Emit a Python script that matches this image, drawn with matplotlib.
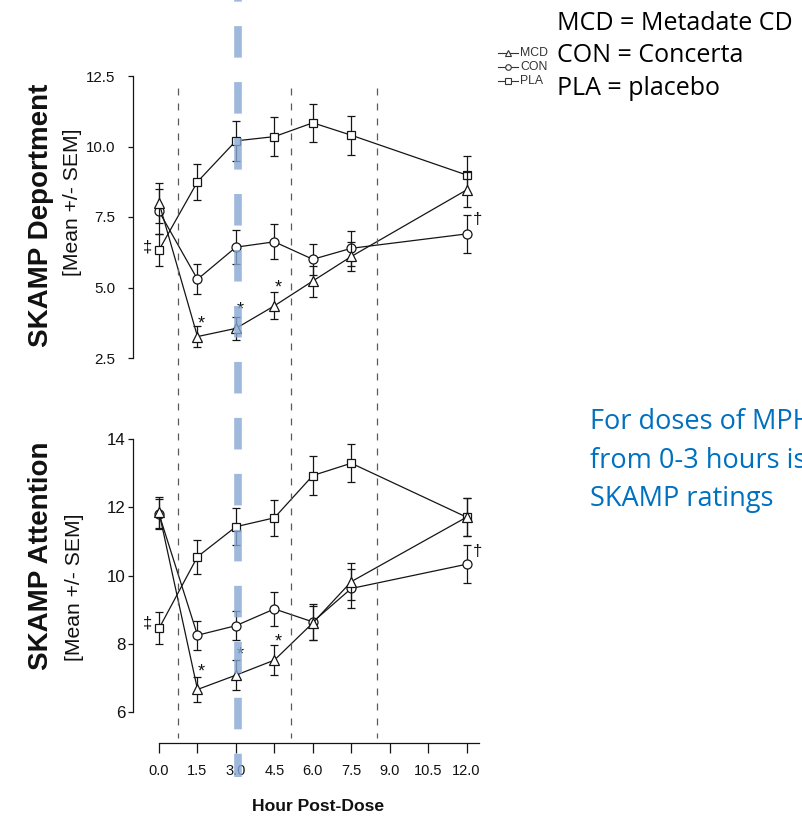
import matplotlib
matplotlib.use("Agg")
import matplotlib.pyplot as plt
from matplotlib import font_manager, transforms
from matplotlib.lines import Line2D


def pick_font(names):
    for name in names:
        try:
            font_manager.findfont(font_manager.FontProperties(family=name),
                                  fallback_to_default=False)
            return name
        except ValueError:
            continue
    return "DejaVu Sans"


NARROW = pick_font(["Liberation Sans Narrow", "Arial Narrow", "Liberation Sans"])
SANS = pick_font(["Liberation Sans", "Arial"])
SLIDE = pick_font(["Open Sans", "Noto Sans", "Lato"])
NS = 1.0 if "Narrow" in NARROW else 0.84   # size factor when no condensed face

plt.rcParams["font.family"] = [NARROW, "DejaVu Sans"]
plt.rcParams["lines.scale_dashes"] = False

# ---------------- data ----------------
hours = [0, 1.5, 3, 4.5, 6, 7.5, 12]
hour_ticks = [0, 1.5, 3, 4.5, 6, 7.5, 9, 10.5, 12]
hour_tick_labels = ["0.0", "1.5", "3.0", "4.5", "6.0", "7.5", "9.0", "10.5", "12.0"]

dep_ticks = [2.5, 5.0, 7.5, 10.0, 12.5]
dep_tick_labels = ["2.5", "5.0", "7.5", "10.0", "12.5"]
att_ticks = [6, 8, 10, 12, 14]
att_tick_labels = ["6", "8", "10", "12", "14"]

# SKAMP Deportment (mean, SEM)
dep_mcd = [8.0, 3.26, 3.55, 4.35, 5.23, 6.1, 8.46]
dep_mcd_sem = [0.7, 0.36, 0.42, 0.48, 0.55, 0.5, 0.62]
dep_con = [7.7, 5.29, 6.43, 6.62, 6.0, 6.39, 6.9]
dep_con_sem = [0.8, 0.53, 0.6, 0.62, 0.55, 0.62, 0.66]
dep_pla = [6.33, 8.75, 10.2, 10.35, 10.84, 10.4, 8.99]
dep_pla_sem = [0.55, 0.63, 0.7, 0.68, 0.67, 0.69, 0.67]

# SKAMP Attention (mean, SEM)
att_mcd = [11.85, 6.66, 7.08, 7.52, 8.61, 9.82, 11.71]
att_mcd_sem = [0.45, 0.38, 0.44, 0.45, 0.5, 0.55, 0.55]
att_con = [11.8, 8.25, 8.53, 9.02, 8.64, 9.62, 10.33]
att_con_sem = [0.45, 0.43, 0.43, 0.5, 0.52, 0.56, 0.56]
att_pla = [8.45, 10.55, 11.43, 11.69, 12.93, 13.29, 11.71]
att_pla_sem = [0.47, 0.5, 0.55, 0.53, 0.57, 0.55, 0.55]

# significance marks: (hour, y) per panel
dep_star_hours = [1.5, 3, 4.5]
dep_star_y = [3.9, 4.38, 5.17]
att_star_hours = [1.5, 3, 4.5]
att_star_y = [7.32, 7.81, 8.2]
dep_dagger_y = 7.42
att_dagger_y = 10.7
dep_ddagger_y = 6.45
att_ddagger_y = 8.6

session_bounds = [0.75, 5.15, 8.5]
highlight_hour = 3.0

series_names = ["MCD", "CON", "PLA"]
glossary = ["MCD = Metadate CD", "CON = Concerta", "PLA = placebo"]
note_lines = ["For doses of MPH", "from 0-3 hours is", "SKAMP ratings"]

# ---------------- figure ----------------
W, H = 802, 816
fig = plt.figure(figsize=(W / 100, H / 100), dpi=100)
fig.patch.set_facecolor("white")

XLIM = (-1.016, 12.6)
INK = "#151515"


def fx(px):
    return px / W


def fy(py):
    return 1 - py / H


ax_top = fig.add_axes([fx(133), fy(358), fx(349), 282 / H])
ax_bot = fig.add_axes([fx(133), fy(712), fx(349), 273 / H])

styles = {
    "MCD": dict(marker="^", ms=7.5),
    "CON": dict(marker="o", ms=6.5),
    "PLA": dict(marker="s", ms=6.0),
}


def draw_series(ax, name, vals, sem, z):
    st = styles[name]
    ax.errorbar(hours, vals, yerr=sem, fmt="-", marker=st["marker"], ms=st["ms"],
                mfc="white", mec=INK, mew=0.9, color=INK, lw=0.9,
                elinewidth=0.9, capsize=3.0, capthick=0.9, clip_on=False,
                zorder=z)


for ax, ylim, ticks, tlabels, tsize, tpad in [
    (ax_top, (2.5, 12.5), dep_ticks, dep_tick_labels, 13 * NS, 9),
    (ax_bot, (6, 14), att_ticks, att_tick_labels, 14.5 * NS, 2),
]:
    ax.set_xlim(*XLIM)
    ax.set_ylim(*ylim)
    ax.set_facecolor("none")
    for s in ("top", "right"):
        ax.spines[s].set_visible(False)
    ax.spines["left"].set_bounds(*ylim)
    ax.spines["left"].set_linewidth(0.9)
    ax.spines["left"].set_color(INK)
    ax.set_yticks(ticks)
    ax.set_yticklabels(tlabels)
    ax.tick_params(axis="y", direction="out", length=3.5, width=0.9,
                   color=INK, labelsize=tsize, pad=tpad, labelcolor="#111")

ax_top.spines["bottom"].set_visible(False)
ax_top.set_xticks([])

ax_bot.spines["bottom"].set_position(("outward", 22.3))
ax_bot.spines["bottom"].set_bounds(0, 12.5)
ax_bot.spines["bottom"].set_linewidth(0.9)
ax_bot.spines["bottom"].set_color(INK)
ax_bot.set_xticks(hour_ticks)
ax_bot.set_xticklabels(hour_tick_labels)
ax_bot.tick_params(axis="x", direction="out", length=7, width=0.9, color=INK,
                   labelsize=12.5 * NS, pad=8, labelcolor="#111")

draw_series(ax_top, "PLA", dep_pla, dep_pla_sem, 3)
draw_series(ax_top, "CON", dep_con, dep_con_sem, 4)
draw_series(ax_top, "MCD", dep_mcd, dep_mcd_sem, 5)
draw_series(ax_bot, "PLA", att_pla, att_pla_sem, 3)
draw_series(ax_bot, "CON", att_con, att_con_sem, 4)
draw_series(ax_bot, "MCD", att_mcd, att_mcd_sem, 5)

# significance symbols
for ax, sh, sy, dy, ddy in [
    (ax_top, dep_star_hours, dep_star_y, dep_dagger_y, dep_ddagger_y),
    (ax_bot, att_star_hours, att_star_y, att_dagger_y, att_ddagger_y),
]:
    for h, y in zip(sh, sy):
        ax.annotate("*", xy=(h, y), xytext=(3, -7), textcoords="offset points",
                    ha="center", va="baseline", fontsize=13, family=SANS,
                    color="#111", zorder=6)
    ax.annotate("\u2020", xy=(12, dy), xytext=(8, 0), textcoords="offset points",
                ha="center", va="center", fontsize=12, family=SANS, color="#111")
    ax.annotate("\u2021", xy=(0, ddy), xytext=(-8, 0), textcoords="offset points",
                ha="center", va="center", fontsize=12, family=SANS, color="#111")

# axis titles
for ax, title, tx, ty, mx, my in [
    (ax_top, "SKAMP Deportment", 48, 215, 72, 202),
    (ax_bot, "SKAMP Attention", 48, 556, 74, 587),
]:
    y0 = ax.get_position().y0 * H
    hgt = ax.get_position().height * H
    ax.set_ylabel(title, family=SANS, fontweight="bold", fontsize=20, color="#111")
    ax.yaxis.label.set_verticalalignment("baseline")
    ax.yaxis.set_label_coords((tx - 133) / 349, ((H - ty) - y0) / hgt)
    ax.text((mx - 133) / 349, ((H - my) - y0) / hgt, "[Mean +/- SEM]",
            transform=ax.transAxes, rotation=90, rotation_mode="anchor",
            ha="center", va="center", fontsize=15.2, color="#111")

ax_bot.set_xlabel("Hour Post-Dose", fontweight="bold", fontsize=15 * NS, color="#111")
ax_bot.xaxis.label.set_verticalalignment("top")
ax_bot.xaxis.set_label_coords((318 - 133) / 349, (712 - 799) / 273)

# vertical session boundaries spanning both panels
vtrans = transforms.blended_transform_factory(ax_bot.transData, fig.transFigure)
for h in session_bounds:
    fig.add_artist(Line2D([h, h], [fy(88), fy(738)], transform=vtrans,
                          color="#5a5a5a", lw=0.9, linestyle=(0, (5.0, 5.8)),
                          zorder=1))

# highlighted 3-hour marker
btrans = vtrans + transforms.ScaledTranslation(2 / 100, 0, fig.dpi_scale_trans)
fig.add_artist(Line2D([highlight_hour, highlight_hour], [fy(0), fy(777)],
                      transform=btrans, color="#86A8D2", alpha=0.8, lw=5.5,
                      linestyle=(21.5, (22.7, 17.6)), dash_capstyle="butt",
                      zorder=10))

# legend
for i, name in enumerate(series_names):
    yy = fy(52.7 + 14.2 * i)
    st = styles[name]
    fig.add_artist(Line2D([fx(498), fx(518)], [yy, yy], transform=fig.transFigure,
                          color="#333", lw=0.8))
    fig.add_artist(Line2D([fx(508.5)], [yy], transform=fig.transFigure,
                          marker=st["marker"], ms=st["ms"] * 0.62, mfc="white",
                          mec="#333", mew=0.8, lw=0))
    fig.text(fx(520), yy, name, ha="left", va="center", fontsize=10.5 * NS,
             color="#333")

# glossary and note
for i, line in enumerate(glossary):
    fig.text(fx(557), fy(30 + 32.5 * i), line, family=SLIDE, fontsize=18,
             ha="left", va="baseline", color="black")

for i, line in enumerate(note_lines):
    fig.text(fx(590), fy(429.3 + 38.3 * i), line, family=SLIDE, fontsize=19.5,
             ha="left", va="baseline", color="#0070C0")

fig.savefig("out.png", dpi=100, facecolor="white")
